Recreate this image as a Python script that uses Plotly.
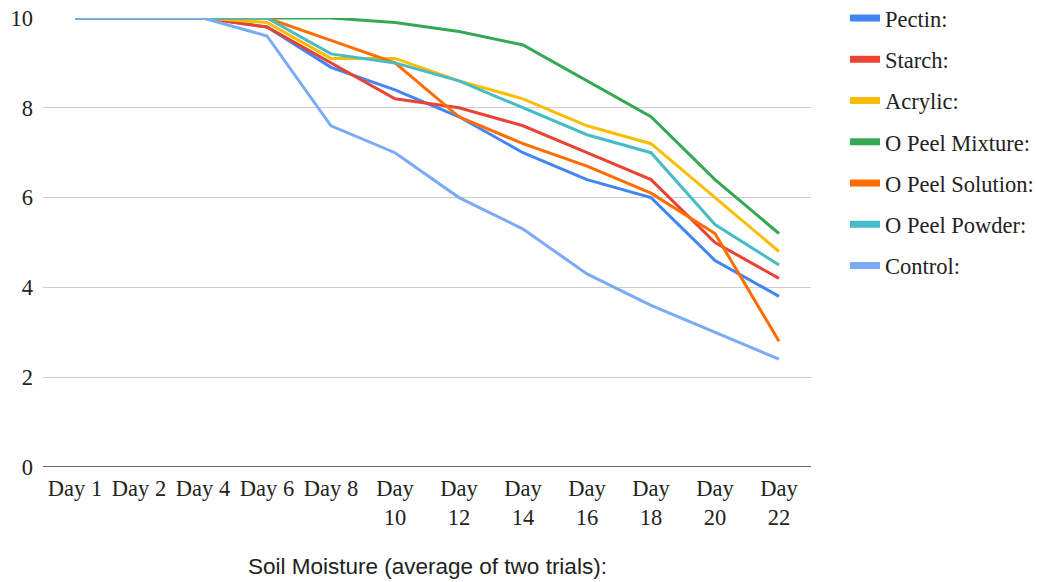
import plotly.graph_objects as go

days = ["Day 1", "Day 2", "Day 4", "Day 6", "Day 8", "Day 10", "Day 12",
        "Day 14", "Day 16", "Day 18", "Day 20", "Day 22"]
tick_text = ["Day 1", "Day 2", "Day 4", "Day 6", "Day 8", "Day<br>10", "Day<br>12",
             "Day<br>14", "Day<br>16", "Day<br>18", "Day<br>20", "Day<br>22"]

pectin = [10, 10, 10, 9.8, 8.9, 8.4, 7.8, 7.0, 6.4, 6.0, 4.6, 3.8]
starch = [10, 10, 10, 9.8, 9.0, 8.2, 8.0, 7.6, 7.0, 6.4, 5.0, 4.2]
acrylic = [10, 10, 10, 9.9, 9.1, 9.1, 8.6, 8.2, 7.6, 7.2, 6.0, 4.8]
peel_mixture = [10, 10, 10, 10, 10, 9.9, 9.7, 9.4, 8.6, 7.8, 6.4, 5.2]
peel_solution = [10, 10, 10, 10, 9.5, 9.0, 7.8, 7.2, 6.7, 6.1, 5.2, 2.8]
peel_powder = [10, 10, 10, 10, 9.2, 9.0, 8.6, 8.0, 7.4, 7.0, 5.4, 4.5]
control = [10, 10, 10, 9.6, 7.6, 7.0, 6.0, 5.3, 4.3, 3.6, 3.0, 2.4]

series_names = ["Pectin:", "Starch:", "Acrylic:", "O Peel Mixture:",
                "O Peel Solution:", "O Peel Powder:", "Control:"]
series_values = [pectin, starch, acrylic, peel_mixture, peel_solution, peel_powder, control]
colors = ["#4285F4", "#EA4335", "#FBBC04", "#34A853", "#FF6D01", "#46BDC6", "#7BAAF7"]

title_text = "Soil Moisture (average of two trials):"

fig = go.Figure()
for name, vals, col in zip(series_names, series_values, colors):
    fig.add_trace(go.Scatter(
        x=days, y=vals, mode="lines", name=name,
        line=dict(color=col, width=3), showlegend=False, legendgroup=name,
    ))
for name, col in zip(series_names, colors):
    fig.add_trace(go.Scatter(
        x=[None], y=[None], mode="lines", name=name,
        line=dict(color=col, width=7), showlegend=True, legendgroup=name,
    ))

serif = "Liberation Serif, Times New Roman, serif"
fs = 22.5

fig.update_layout(
    width=1037, height=582,
    margin=dict(l=43, r=226, t=18, b=115, autoexpand=False),
    paper_bgcolor="white", plot_bgcolor="white",
    font=dict(family=serif, size=fs, color="#222222"),
    showlegend=True,
    legend=dict(
        x=1.0443, xanchor="left", y=1.047, yanchor="top",
        font=dict(family=serif, size=fs, color="#222222"),
        tracegroupgap=9, bgcolor="rgba(0,0,0,0)", maxheight=560,
    ),
    xaxis=dict(
        type="category", tickmode="array", tickvals=days, ticktext=tick_text,
        range=[-0.5, 11.5],
        showgrid=False, showline=False, zeroline=False,
        tickfont=dict(family=serif, size=fs, color="#222222"),
        ticks="", fixedrange=True, ticklabelstandoff=5,
    ),
    yaxis=dict(
        range=[0, 10], tickvals=[0, 2, 4, 6, 8, 10],
        showgrid=True, gridcolor="#CCCCCC", gridwidth=1,
        zeroline=False, showline=False,
        tickfont=dict(family=serif, size=fs, color="#222222"),
        ticklabelstandoff=9,
    ),
    annotations=[dict(
        text=title_text, x=0.5, y=-0.2227, xref="paper", yref="paper",
        xanchor="center", yanchor="middle", showarrow=False,
        font=dict(family="Liberation Sans, Arial, sans-serif", size=fs, color="#222222"),
    )],
    shapes=[dict(type="line", xref="paper", yref="y", x0=0, x1=1, y0=0, y1=0,
                 line=dict(color="#333333", width=1.5))],
)

fig.write_html("out.html")
